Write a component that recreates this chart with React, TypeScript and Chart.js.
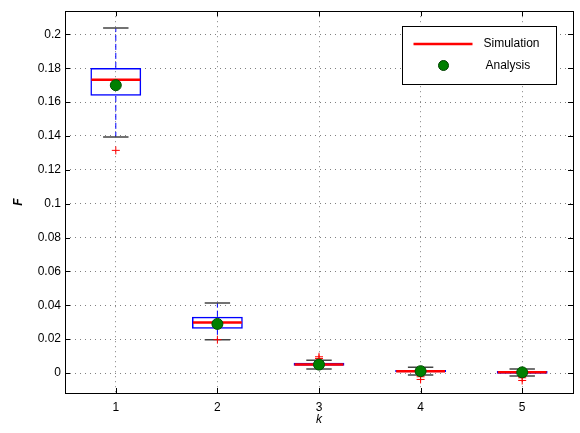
import React, { useEffect, useRef } from 'react';
import { Chart, registerables } from 'chart.js';

Chart.register(...registerables);

const categories = ['1', '2', '3', '4', '5'];
const q1 = [0.1637, 0.0261, 0.0043, 0.0004, -0.0004];
const q3 = [0.1802, 0.0333, 0.0060, 0.0018, 0.0012];
const medians = [0.1732, 0.0298, 0.0051, 0.0010, 0.0005];
const whiskerLow = [0.1394, 0.0196, 0.0024, -0.0012, -0.0018];
const whiskerHigh = [0.2038, 0.0414, 0.0076, 0.0034, 0.0024];
const outliers = [[0.1315], [0.0197], [0.0086, 0.0096], [-0.0022, -0.0038], [-0.0028, -0.0044]];
const analysis = [0.1700, 0.0290, 0.0050, 0.0011, 0.0004];
const yTicks = [0, 0.02, 0.04, 0.06, 0.08, 0.1, 0.12, 0.14, 0.16, 0.18, 0.2];
const yMin = -0.0118;
const yMax = 0.2137;

const FONT = "'Liberation Sans', Arial, sans-serif";

const boxPlugin = {
  id: 'boxExtras',
  beforeDatasetsDraw(chart: any) {
    const { ctx } = chart;
    const xs = chart.scales.x;
    const ys = chart.scales.y;
    const step = xs.getPixelForValue(1) - xs.getPixelForValue(0);
    const capHalf = step * 0.125;
    ctx.save();
    categories.forEach((_, i) => {
      const cx = xs.getPixelForValue(i);
      ctx.strokeStyle = '#0000ff';
      ctx.lineWidth = 1;
      ctx.setLineDash([6, 3]);
      ctx.beginPath();
      ctx.moveTo(cx, ys.getPixelForValue(q3[i]));
      ctx.lineTo(cx, ys.getPixelForValue(whiskerHigh[i]));
      ctx.moveTo(cx, ys.getPixelForValue(q1[i]));
      ctx.lineTo(cx, ys.getPixelForValue(whiskerLow[i]));
      ctx.stroke();
      ctx.setLineDash([]);
      ctx.strokeStyle = '#444444';
      ctx.lineWidth = 1.5;
      ctx.beginPath();
      const yh = ys.getPixelForValue(whiskerHigh[i]);
      const yl = ys.getPixelForValue(whiskerLow[i]);
      ctx.moveTo(cx - capHalf, yh);
      ctx.lineTo(cx + capHalf, yh);
      ctx.moveTo(cx - capHalf, yl);
      ctx.lineTo(cx + capHalf, yl);
      ctx.stroke();
    });
    ctx.restore();
  },
  afterDatasetDraw(chart: any, args: any) {
    if (args.index !== 0) return;
    const { ctx } = chart;
    const xs = chart.scales.x;
    const ys = chart.scales.y;
    const step = xs.getPixelForValue(1) - xs.getPixelForValue(0);
    const boxHalf = step * 0.25;
    ctx.save();
    categories.forEach((_, i) => {
      const cx = xs.getPixelForValue(i);
      ctx.strokeStyle = '#ff0000';
      ctx.lineWidth = 2.5;
      const ym = ys.getPixelForValue(medians[i]);
      ctx.beginPath();
      ctx.moveTo(cx - boxHalf + 1, ym);
      ctx.lineTo(cx + boxHalf - 1, ym);
      ctx.stroke();
      ctx.lineWidth = 1;
      outliers[i].forEach((v) => {
        const yo = ys.getPixelForValue(v);
        ctx.beginPath();
        ctx.moveTo(cx - 4, yo);
        ctx.lineTo(cx + 4, yo);
        ctx.moveTo(cx, yo - 4);
        ctx.lineTo(cx, yo + 4);
        ctx.stroke();
      });
    });
    ctx.restore();
  },
  afterDraw(chart: any) {
    const { ctx, chartArea } = chart;
    const { left, right, top, bottom } = chartArea;
    const xs = chart.scales.x;
    const ys = chart.scales.y;
    ctx.save();
    ctx.strokeStyle = '#000000';
    ctx.lineWidth = 1;
    ctx.strokeRect(Math.round(left) + 0.5, Math.round(top) + 0.5, Math.round(right - left), Math.round(bottom - top));
    ctx.beginPath();
    yTicks.forEach((t) => {
      const y = Math.round(ys.getPixelForValue(t)) + 0.5;
      ctx.moveTo(left, y);
      ctx.lineTo(left + 5, y);
      ctx.moveTo(right, y);
      ctx.lineTo(right - 5, y);
    });
    categories.forEach((_, i) => {
      const x = Math.round(xs.getPixelForValue(i)) + 0.5;
      ctx.moveTo(x, bottom);
      ctx.lineTo(x, bottom - 5);
      ctx.moveTo(x, top);
      ctx.lineTo(x, top + 5);
    });
    ctx.stroke();

    // legend
    const lw = 154;
    const lh = 58;
    const lx = Math.round(right - 17 - lw) + 0.5;
    const ly = Math.round(top + 15) + 0.5;
    ctx.fillStyle = '#ffffff';
    ctx.fillRect(lx, ly, lw, lh);
    ctx.strokeStyle = '#000000';
    ctx.lineWidth = 1;
    ctx.strokeRect(lx, ly, lw, lh);
    const labels = chart.data.datasets.filter((d: any) => d.legendLabel).map((d: any) => d.legendLabel);
    ctx.strokeStyle = '#ff0000';
    ctx.lineWidth = 2.5;
    ctx.beginPath();
    ctx.moveTo(lx + 11, ly + 17.5);
    ctx.lineTo(lx + 70, ly + 17.5);
    ctx.stroke();
    ctx.beginPath();
    ctx.arc(lx + 41, ly + 39, 5, 0, Math.PI * 2);
    ctx.fillStyle = '#008000';
    ctx.fill();
    ctx.strokeStyle = '#004000';
    ctx.lineWidth = 1;
    ctx.stroke();
    ctx.fillStyle = '#000000';
    ctx.font = `12px ${FONT}`;
    ctx.textAlign = 'left';
    ctx.textBaseline = 'middle';
    ctx.fillText(labels[0], lx + 81, ly + 17.5);
    ctx.fillText(labels[1], lx + 83, ly + 39);
    ctx.restore();
  },
};

export default function App() {
  const ref = useRef<HTMLCanvasElement | null>(null);
  useEffect(() => {
    if (!ref.current) return;
    const chart = new Chart(ref.current, {
      type: 'bar',
      data: {
        labels: categories,
        datasets: [
          {
            type: 'bar',
            label: 'Box',
            legendLabel: 'Simulation',
            data: q1.map((v, i) => [v, q3[i]]),
            backgroundColor: 'rgba(0,0,0,0)',
            borderColor: '#0000ff',
            borderWidth: 1.5,
            borderSkipped: false,
            barPercentage: 0.5,
            categoryPercentage: 1,
            order: 2,
          } as any,
          {
            type: 'line',
            label: 'Analysis',
            legendLabel: 'Analysis',
            data: analysis,
            showLine: false,
            pointRadius: 5.5,
            pointBackgroundColor: '#008000',
            pointBorderColor: '#005000',
            pointBorderWidth: 1,
            order: 1,
          } as any,
        ],
      },
      options: {
        animation: false,
        responsive: false,
        maintainAspectRatio: false,
        layout: { padding: { left: 0, right: 7, top: 10, bottom: 0 } },
        plugins: { legend: { display: false }, tooltip: { enabled: false } },
        scales: {
          x: {
            type: 'category',
            offset: true,
            grid: { offset: false, color: '#808080', drawTicks: false, lineWidth: 1 },
            border: { display: false, dash: [1, 4] },
            ticks: { color: '#000', padding: 7, font: { family: FONT, size: 12 } },
            title: {
              display: true,
              text: 'k',
              color: '#000',
              font: { family: FONT, size: 12, style: 'italic' },
              padding: { top: 0, bottom: 6 },
            },
            afterFit: (s: any) => { s.height = 40; },
          },
          y: {
            min: yMin,
            max: yMax,
            afterBuildTicks: (s: any) => { s.ticks = yTicks.map((v) => ({ value: v })); },
            grid: { color: '#808080', drawTicks: false, lineWidth: 1 },
            border: { display: false, dash: [1, 4] },
            ticks: {
              color: '#000',
              padding: 4,
              font: { family: FONT, size: 12 },
              callback: (v: any) => String(Math.round(Number(v) * 1000) / 1000),
            },
            title: {
              display: true,
              text: 'F',
              color: '#000',
              font: { family: FONT, size: 12, style: 'italic', weight: 'bold' },
              padding: { top: 11, bottom: 0 },
            },
            afterFit: (s: any) => { s.width = 65; },
          },
        },
      },
      plugins: [boxPlugin],
    });
    return () => chart.destroy();
  }, []);
  return (
    <div style={{ position: 'fixed', left: 0, top: 0, width: 580, height: 433, background: '#fff' }}>
      <canvas ref={ref} width={580} height={433} style={{ width: 580, height: 433 }} />
    </div>
  );
}
